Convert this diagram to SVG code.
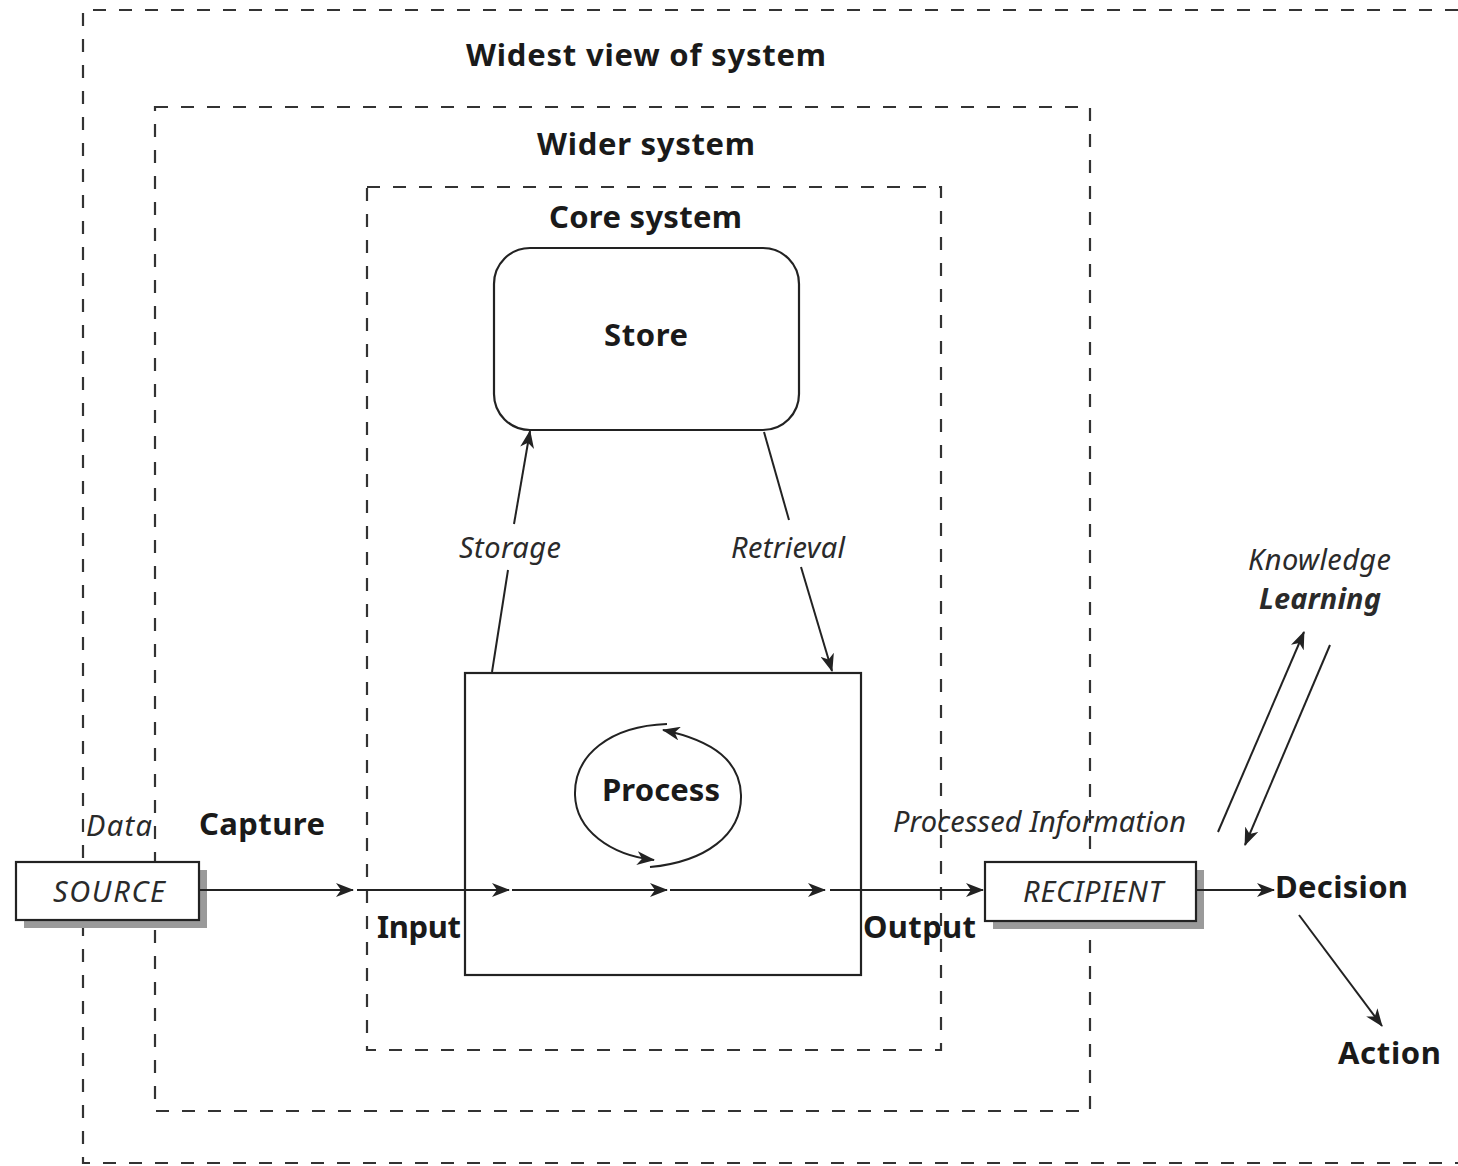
<svg xmlns="http://www.w3.org/2000/svg" width="1458" height="1166" viewBox="0 0 1458 1166">
<style>
.dash{fill:none;stroke:#333;stroke-width:2.2;stroke-dasharray:13 13}
.box{fill:#fff;stroke:#222;stroke-width:2.2}
.shadow{fill:#9a9a9a}
.ln{fill:none;stroke:#222;stroke-width:2}
.b{font-family:"Noto Sans","DejaVu Sans",sans-serif;font-weight:bold;fill:#1a1a1a;font-size:31px}
.i{font-family:"Noto Sans","DejaVu Sans",sans-serif;font-style:italic;fill:#2a2a2a;font-size:29px}
</style>
<defs>
<marker id="ah" viewBox="0 0 18 14" refX="17" refY="7" markerWidth="18" markerHeight="14" markerUnits="userSpaceOnUse" orient="auto">
<path d="M0,0 L18,7 L0,14 L5,7 z" fill="#222"/>
</marker>
</defs>
<g id="boundaries">
<path class="dash" d="M1458,10 H83 V1163 H1458"/>
<rect class="dash" x="155" y="107" width="935" height="1004"/>
<rect class="dash" x="367" y="187" width="574" height="863"/>
<text class="b" x="466" y="66" textLength="360">Widest view of system</text>
<text class="b" x="537" y="155" textLength="218">Wider system</text>
<text class="b" x="549" y="228" textLength="193">Core system</text>
</g>
<g id="store">
<rect class="box" x="494" y="248" width="305" height="182" rx="36"/>
<text class="b" x="604" y="346" textLength="84">Store</text>
</g>
<g id="process">
<rect class="box" x="465" y="673" width="396" height="302"/>
<text class="b" x="602" y="801" textLength="118">Process</text>
</g>
<g id="source">
<rect class="shadow" x="24" y="870" width="183" height="58"/>
<rect class="box" x="16" y="862" width="183" height="58"/>
<text class="i" x="53" y="902" textLength="112">SOURCE</text>
</g>
<g id="recipient">
<rect class="shadow" x="993" y="870" width="211" height="59"/>
<rect class="box" x="985" y="862" width="211" height="59"/>
<text class="i" x="1023" y="902" textLength="140">RECIPIENT</text>
</g>
<g id="decision"><text class="b" x="1275" y="898" textLength="133">Decision</text></g>
<g id="action"><text class="b" x="1338" y="1064" textLength="103">Action</text></g>
<g id="knowledge">
<text class="i" x="1248" y="570" textLength="143">Knowledge</text>
<text class="i" x="1259" y="609" textLength="122" font-weight="bold">Learning</text>
</g>
<g id="labels">
<text class="i" x="86" y="836" textLength="66">Data</text>
<text class="b" x="199" y="835" textLength="126">Capture</text>
<text class="b" x="377" y="938" textLength="84">Input</text>
<text class="b" x="863" y="938" textLength="113">Output</text>
<text class="i" x="893" y="832" textLength="293">Processed Information</text>
<text class="i" x="459" y="558" textLength="102">Storage</text>
<text class="i" x="731" y="558" textLength="114">Retrieval</text>
</g>
<g id="connectors">
<line class="ln" x1="199" y1="890" x2="353" y2="890" marker-end="url(#ah)"/>
<line class="ln" x1="357" y1="890" x2="509" y2="890" marker-end="url(#ah)"/>
<line class="ln" x1="512" y1="890" x2="667" y2="890" marker-end="url(#ah)"/>
<line class="ln" x1="670" y1="890" x2="825" y2="890" marker-end="url(#ah)"/>
<line class="ln" x1="830" y1="890" x2="983" y2="890" marker-end="url(#ah)"/>
<line class="ln" x1="1196" y1="890" x2="1274" y2="890" marker-end="url(#ah)"/>
<line class="ln" x1="492" y1="672" x2="508" y2="570"/>
<line class="ln" x1="514" y1="524" x2="530" y2="431" marker-end="url(#ah)"/>
<line class="ln" x1="764" y1="432" x2="789" y2="520"/>
<line class="ln" x1="801" y1="567" x2="832" y2="671" marker-end="url(#ah)"/>
<line class="ln" x1="1218" y1="832" x2="1304" y2="632" marker-end="url(#ah)"/>
<line class="ln" x1="1330" y1="645" x2="1245" y2="845" marker-end="url(#ah)"/>
<line class="ln" x1="1299" y1="915" x2="1382" y2="1026" marker-end="url(#ah)"/>
<path class="ln" d="M667,724 C610,726 574,755 575,795 C576,830 610,855 654,860" marker-end="url(#ah)"/>
<path class="ln" d="M650,867 C705,862 742,835 741,795 C740,762 715,741 663,730" marker-end="url(#ah)"/>
</g>
</svg>
